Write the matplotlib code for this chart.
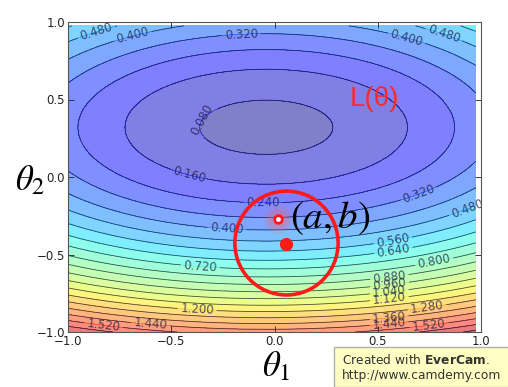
import matplotlib
matplotlib.use('Agg')
import matplotlib.pyplot as plt
import numpy as np
from matplotlib.patches import Ellipse, Rectangle

# loss surface L(theta1, theta2), shape
loss_min = 0.057
center = (-0.04, 0.32)
curv_x = 0.22
curv_y = 0.75
skew_y = 0.05

line_levels = [0.08, 0.16, 0.24, 0.32, 0.40, 0.48, 0.56, 0.64, 0.72, 0.80,
               0.88, 0.96, 1.04, 1.12, 1.20, 1.28, 1.36, 1.44, 1.52, 1.60, 1.68]
fill_levels = [0.0] + line_levels + [1.76]

# contour labels: (level, x, y)
label_spots = [
    (0.48, -0.864, 0.942), (0.40, -0.685, 0.90), (0.32, -0.16, 0.897),
    (0.40, 0.64, 0.90), (0.48, 0.82, 0.92), (0.08, -0.36, 0.38),
    (0.16, -0.41, 0.026), (0.24, -0.056, -0.153), (0.40, -0.23, -0.32),
    (0.72, -0.36, -0.58), (1.20, -0.375, -0.865), (1.44, -0.60, -0.97),
    (1.52, -0.83, -0.975), (0.32, 0.69, -0.08), (0.48, 0.93, -0.19),
    (0.56, 0.57, -0.38), (0.64, 0.57, -0.42), (0.80, 0.77, -0.52),
    (0.88, 0.555, -0.63), (0.96, 0.555, -0.67), (1.04, 0.555, -0.735),
    (1.12, 0.555, -0.77), (1.28, 0.74, -0.85), (1.36, 0.555, -0.91),
    (1.44, 0.555, -0.955), (1.52, 0.75, -0.97),
]

point_ab = (0.018, -0.273)
point_next = (0.056, -0.43)
circle_center = (0.058, -0.426)
circle_size = (0.50, 0.67)

x = np.arange(-1.0, 1.0, 0.025)
y = np.arange(-1.0, 1.0, 0.025)
X, Y = np.meshgrid(x, y)
Z = (loss_min + curv_x * (X - center[0]) ** 2 + curv_y * (Y - center[1]) ** 2
     + skew_y * (center[1] - Y) ** 3)

fig = plt.figure(figsize=(5.08, 3.87), dpi=100)
ax = fig.add_axes([68 / 508, 1 - 332 / 387, 413 / 508, 310 / 387])

ax.contourf(X, Y, Z, levels=fill_levels, cmap='jet', alpha=0.5)
# one contour set per level so each label lands on the right line
for lvl in line_levels:
    cs = ax.contour(X, Y, Z, levels=[lvl], colors='#1a1a40', linewidths=0.6, alpha=0.75)
    spots = [(lx, ly) for lv, lx, ly in label_spots if abs(lv - lvl) < 1e-6]
    if spots:
        ax.clabel(cs, manual=spots, inline=True, inline_spacing=3,
                  fontsize=8.5, fmt='%.3f')

ax.set_xlim(-1, 1)
ax.set_ylim(-1, 1)
ax.set_xticks([-1.0, -0.5, 0.0, 0.5, 1.0])
ax.set_yticks([-1.0, -0.5, 0.0, 0.5, 1.0])
ax.tick_params(direction='in', top=True, right=True, length=4, width=0.6,
               labelsize=8.5, pad=2, colors='#222222')
for s in ax.spines.values():
    s.set_linewidth(0.8)
    s.set_color('#555555')

# gradient step annotation
ax.add_patch(Ellipse(circle_center, circle_size[0], circle_size[1], fill=False,
                     edgecolor='#ff1a1a', linewidth=2.6, zorder=5))
for r, a in [(22, 0.10), (17, 0.15), (13, 0.2)]:
    ax.plot(*point_ab, 'o', ms=r, color='#ff6060', alpha=a, mec='none', zorder=6)
ax.plot(*point_ab, 'o', ms=5.5, mfc='white', mec='#ff1a1a', mew=2, zorder=7)
ax.plot(*point_next, 'o', ms=8.5, color='#ff1a1a', zorder=7)

ax.text(0.268, -0.262, '$(a,b)$', fontsize=28, ha='center', va='center',
        math_fontfamily='stix', zorder=8)
ax.text(0.482, 0.50, 'L(θ)', fontsize=20, color='#ff2a2a', ha='center',
        va='center', family='Liberation Sans', zorder=8)

fig.text(30 / 508, 1 - 180 / 387, r'$\theta_2$', fontsize=25, ha='center',
         va='center', math_fontfamily='stix')
fig.text(276 / 508, 1 - 366 / 387, r'$\theta_1$', fontsize=25, ha='center',
         va='center', math_fontfamily='stix')

# recorder watermark
fig.add_artist(Rectangle((334 / 508, 0), 175 / 508, 40 / 387, transform=fig.transFigure,
                         facecolor='#ffffc4', edgecolor='#b0b0b0', linewidth=1))
fig.text(342 / 508, 1 - 360 / 387, r'Created with $\mathbf{EverCam}$.', fontsize=8.8,
         va='center', color='#333333')
fig.text(342 / 508, 1 - 376 / 387, 'http://www.camdemy.com', fontsize=8.8,
         va='center', color='#333333')

fig.savefig('out.png', dpi=100)
